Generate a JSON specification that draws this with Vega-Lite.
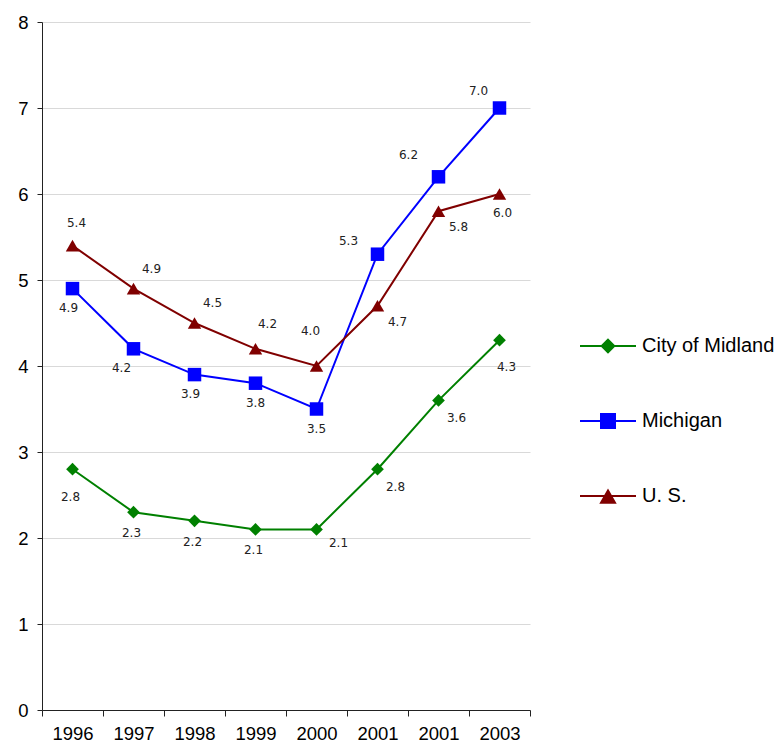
{
  "$schema": "https://vega.github.io/schema/vega-lite/v6.json",
  "width": 488,
  "height": 688,
  "autosize": "none",
  "padding": {"left": 42, "top": 22, "right": 254, "bottom": 41},
  "background": "white",
  "config": {"view": {"stroke": null}, "font": "Liberation Sans"},
  "data": {
    "values": [
      {"series": "City of Midland", "idx": 0, "value": 2.8},
      {"series": "City of Midland", "idx": 1, "value": 2.3},
      {"series": "City of Midland", "idx": 2, "value": 2.2},
      {"series": "City of Midland", "idx": 3, "value": 2.1},
      {"series": "City of Midland", "idx": 4, "value": 2.1},
      {"series": "City of Midland", "idx": 5, "value": 2.8},
      {"series": "City of Midland", "idx": 6, "value": 3.6},
      {"series": "City of Midland", "idx": 7, "value": 4.3},
      {"series": "Michigan", "idx": 0, "value": 4.9},
      {"series": "Michigan", "idx": 1, "value": 4.2},
      {"series": "Michigan", "idx": 2, "value": 3.9},
      {"series": "Michigan", "idx": 3, "value": 3.8},
      {"series": "Michigan", "idx": 4, "value": 3.5},
      {"series": "Michigan", "idx": 5, "value": 5.3},
      {"series": "Michigan", "idx": 6, "value": 6.2},
      {"series": "Michigan", "idx": 7, "value": 7.0},
      {"series": "U. S.", "idx": 0, "value": 5.4},
      {"series": "U. S.", "idx": 1, "value": 4.9},
      {"series": "U. S.", "idx": 2, "value": 4.5},
      {"series": "U. S.", "idx": 3, "value": 4.2},
      {"series": "U. S.", "idx": 4, "value": 4.0},
      {"series": "U. S.", "idx": 5, "value": 4.7},
      {"series": "U. S.", "idx": 6, "value": 5.8},
      {"series": "U. S.", "idx": 7, "value": 6.0}
    ]
  },
  "encoding": {
    "x": {
      "field": "idx",
      "type": "ordinal",
      "scale": {"type": "band", "paddingInner": 0, "paddingOuter": 0},
      "axis": {
        "title": null,
        "labelAngle": 0,
        "tickBand": "extent",
        "labelExpr": "['1996','1997','1998','1999','2000','2001','2001','2003'][datum.value]",
        "labelFont": "Liberation Sans",
        "labelFontSize": 18.5,
        "labelColor": "#000000",
        "labelPadding": 8,
        "tickSize": 6,
        "tickColor": "#222222",
        "domainColor": "#222222",
        "grid": false
      }
    },
    "y": {
      "field": "value",
      "type": "quantitative",
      "scale": {"domain": [0, 8], "nice": false},
      "axis": {
        "title": null,
        "values": [0, 1, 2, 3, 4, 5, 6, 7, 8],
        "labelFont": "Liberation Sans",
        "labelFontSize": 18.5,
        "labelColor": "#000000",
        "labelPadding": 9,
        "tickSize": 5,
        "tickColor": "#222222",
        "domainColor": "#222222",
        "gridColor": "#d9d9d9",
        "gridWidth": 1.2
      }
    }
  },
  "layer": [
    {
      "transform": [{"filter": "datum.series === 'City of Midland'"}],
      "mark": {"type": "line", "strokeWidth": 2, "color": "#008000"},
      "encoding": {"order": {"field": "idx"}}
    },
    {
      "transform": [{"filter": "datum.series === 'Michigan'"}],
      "mark": {"type": "line", "strokeWidth": 2, "color": "#0000ff"},
      "encoding": {"order": {"field": "idx"}}
    },
    {
      "transform": [{"filter": "datum.series === 'U. S.'"}],
      "mark": {"type": "line", "strokeWidth": 2, "color": "#800000"},
      "encoding": {"order": {"field": "idx"}}
    },
    {
      "transform": [{"filter": "datum.series === 'City of Midland'"}],
      "mark": {"type": "point", "shape": "diamond", "filled": true, "size": 161, "color": "#008000", "opacity": 1}
    },
    {
      "transform": [{"filter": "datum.series === 'Michigan'"}],
      "mark": {"type": "point", "shape": "square", "filled": true, "size": 182, "color": "#0000ff", "opacity": 1}
    },
    {
      "transform": [{"filter": "datum.series === 'U. S.'"}],
      "mark": {"type": "point", "shape": "triangle-up", "filled": true, "size": 180, "color": "#800000", "opacity": 1}
    },
    {
      "mark": {"type": "point", "filled": true, "size": 3136, "strokeWidth": 2, "opacity": 0},
      "encoding": {
        "color": {
          "field": "series",
          "type": "nominal",
          "scale": {"domain": ["City of Midland", "Michigan", "U. S."], "range": ["#008000", "#0000ff", "#800000"]},
          "legend": {
            "title": null, "orient": "none", "legendX": 537, "legendY": 295, "padding": 0,
            "symbolSize": 3136, "symbolStrokeWidth": 2, "symbolOpacity": 1,
            "labelFont": "Liberation Sans", "labelFontSize": 20, "labelColor": "#000000",
            "labelOffset": 5, "labelLimit": 300, "rowPadding": 35,
            "encode": {"symbols": {"update": {"opacity": {"value": 1}}}}
          }
        },
        "stroke": {
          "field": "series",
          "type": "nominal",
          "scale": {"domain": ["City of Midland", "Michigan", "U. S."], "range": ["#008000", "#0000ff", "#800000"]},
          "legend": {
            "title": null, "orient": "none", "legendX": 537, "legendY": 295, "padding": 0,
            "symbolSize": 3136, "symbolStrokeWidth": 2, "symbolOpacity": 1,
            "labelFont": "Liberation Sans", "labelFontSize": 20, "labelColor": "#000000",
            "labelOffset": 5, "labelLimit": 300, "rowPadding": 35,
            "encode": {"symbols": {"update": {"opacity": {"value": 1}}}}
          }
        },
        "shape": {
          "field": "series",
          "type": "nominal",
          "scale": {
            "domain": ["City of Midland", "Michigan", "U. S."],
            "range": [
              "M-1,0H1M0,-0.225L0.225,0L0,0.225L-0.225,0Z",
              "M-1,0H1M-0.25,-0.25H0.25V0.25H-0.25Z",
              "M-1,0H1M0,-0.2L0.25,0.24H-0.25Z"
            ]
          },
          "legend": {
            "title": null, "orient": "none", "legendX": 537, "legendY": 295, "padding": 0,
            "symbolSize": 3136, "symbolStrokeWidth": 2, "symbolOpacity": 1,
            "labelFont": "Liberation Sans", "labelFontSize": 20, "labelColor": "#000000",
            "labelOffset": 5, "labelLimit": 300, "rowPadding": 35,
            "encode": {"symbols": {"update": {"opacity": {"value": 1}}}}
          }
        }
      }
    },
    {
      "transform": [{"filter": "datum.series === 'U. S.' && datum.idx === 0"}],
      "mark": {"type": "text", "font": "DejaVu Sans", "fontSize": 12, "color": "#222222", "dx": 4, "dy": -23},
      "encoding": {"text": {"field": "value", "type": "quantitative", "format": ".1f"}}
    },
    {
      "transform": [{"filter": "datum.series === 'U. S.' && (datum.idx === 1 || datum.idx === 2)"}],
      "mark": {"type": "text", "font": "DejaVu Sans", "fontSize": 12, "color": "#222222", "dx": 18, "dy": -20},
      "encoding": {"text": {"field": "value", "type": "quantitative", "format": ".1f"}}
    },
    {
      "transform": [{"filter": "datum.series === 'U. S.' && datum.idx === 3"}],
      "mark": {"type": "text", "font": "DejaVu Sans", "fontSize": 12, "color": "#222222", "dx": 12, "dy": -25},
      "encoding": {"text": {"field": "value", "type": "quantitative", "format": ".1f"}}
    },
    {
      "transform": [{"filter": "datum.series === 'U. S.' && datum.idx === 4"}],
      "mark": {"type": "text", "font": "DejaVu Sans", "fontSize": 12, "color": "#222222", "dx": -6, "dy": -35},
      "encoding": {"text": {"field": "value", "type": "quantitative", "format": ".1f"}}
    },
    {
      "transform": [{"filter": "datum.series === 'U. S.' && (datum.idx === 5 || datum.idx === 6)"}],
      "mark": {"type": "text", "font": "DejaVu Sans", "fontSize": 12, "color": "#222222", "dx": 20, "dy": 16},
      "encoding": {"text": {"field": "value", "type": "quantitative", "format": ".1f"}}
    },
    {
      "transform": [{"filter": "datum.series === 'U. S.' && datum.idx === 7"}],
      "mark": {"type": "text", "font": "DejaVu Sans", "fontSize": 12, "color": "#222222", "dx": 3, "dy": 19},
      "encoding": {"text": {"field": "value", "type": "quantitative", "format": ".1f"}}
    },
    {
      "transform": [{"filter": "datum.series === 'Michigan' && (datum.idx === 0 || datum.idx === 2)"}],
      "mark": {"type": "text", "font": "DejaVu Sans", "fontSize": 12, "color": "#222222", "dx": -4, "dy": 19},
      "encoding": {"text": {"field": "value", "type": "quantitative", "format": ".1f"}}
    },
    {
      "transform": [{"filter": "datum.series === 'Michigan' && datum.idx === 1"}],
      "mark": {"type": "text", "font": "DejaVu Sans", "fontSize": 12, "color": "#222222", "dx": -12, "dy": 19},
      "encoding": {"text": {"field": "value", "type": "quantitative", "format": ".1f"}}
    },
    {
      "transform": [{"filter": "datum.series === 'Michigan' && (datum.idx === 3 || datum.idx === 4)"}],
      "mark": {"type": "text", "font": "DejaVu Sans", "fontSize": 12, "color": "#222222", "dx": 0, "dy": 20},
      "encoding": {"text": {"field": "value", "type": "quantitative", "format": ".1f"}}
    },
    {
      "transform": [{"filter": "datum.series === 'Michigan' && datum.idx === 5"}],
      "mark": {"type": "text", "font": "DejaVu Sans", "fontSize": 12, "color": "#222222", "dx": -29, "dy": -13},
      "encoding": {"text": {"field": "value", "type": "quantitative", "format": ".1f"}}
    },
    {
      "transform": [{"filter": "datum.series === 'Michigan' && datum.idx === 6"}],
      "mark": {"type": "text", "font": "DejaVu Sans", "fontSize": 12, "color": "#222222", "dx": -30, "dy": -22},
      "encoding": {"text": {"field": "value", "type": "quantitative", "format": ".1f"}}
    },
    {
      "transform": [{"filter": "datum.series === 'Michigan' && datum.idx === 7"}],
      "mark": {"type": "text", "font": "DejaVu Sans", "fontSize": 12, "color": "#222222", "dx": -21, "dy": -17},
      "encoding": {"text": {"field": "value", "type": "quantitative", "format": ".1f"}}
    },
    {
      "transform": [{"filter": "datum.series === 'City of Midland' && datum.idx === 0"}],
      "mark": {"type": "text", "font": "DejaVu Sans", "fontSize": 12, "color": "#222222", "dx": -2, "dy": 28},
      "encoding": {"text": {"field": "value", "type": "quantitative", "format": ".1f"}}
    },
    {
      "transform": [{"filter": "datum.series === 'City of Midland' && datum.idx >= 1 && datum.idx <= 3"}],
      "mark": {"type": "text", "font": "DejaVu Sans", "fontSize": 12, "color": "#222222", "dx": -2, "dy": 21},
      "encoding": {"text": {"field": "value", "type": "quantitative", "format": ".1f"}}
    },
    {
      "transform": [{"filter": "datum.series === 'City of Midland' && datum.idx === 4"}],
      "mark": {"type": "text", "font": "DejaVu Sans", "fontSize": 12, "color": "#222222", "dx": 22, "dy": 14},
      "encoding": {"text": {"field": "value", "type": "quantitative", "format": ".1f"}}
    },
    {
      "transform": [{"filter": "datum.series === 'City of Midland' && (datum.idx === 5 || datum.idx === 6)"}],
      "mark": {"type": "text", "font": "DejaVu Sans", "fontSize": 12, "color": "#222222", "dx": 18, "dy": 18},
      "encoding": {"text": {"field": "value", "type": "quantitative", "format": ".1f"}}
    },
    {
      "transform": [{"filter": "datum.series === 'City of Midland' && datum.idx === 7"}],
      "mark": {"type": "text", "font": "DejaVu Sans", "fontSize": 12, "color": "#222222", "dx": 7, "dy": 27},
      "encoding": {"text": {"field": "value", "type": "quantitative", "format": ".1f"}}
    }
  ]
}
